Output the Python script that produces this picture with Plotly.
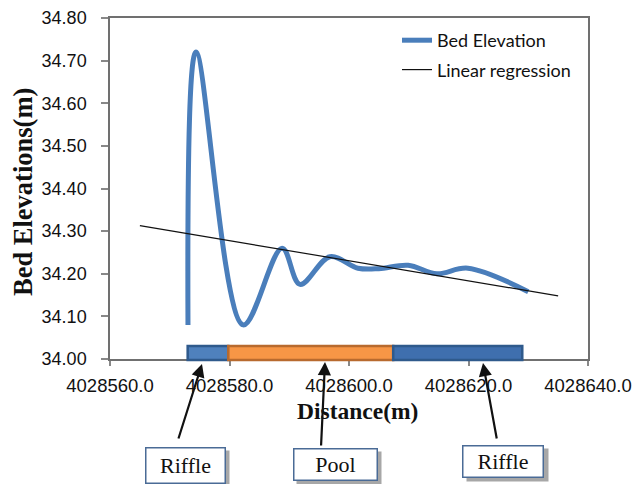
import plotly.graph_objects as go

# ---------------- data ----------------
distance = [4028573.05, 4028574.4, 4028582.3, 4028588.8, 4028591.8, 4028596.8,
            4028601.5, 4028605.0, 4028609.9, 4028614.7, 4028619.9, 4028630.0]
elevation = [34.08, 34.72, 34.08, 34.26, 34.175, 34.24,
             34.213, 34.212, 34.22, 34.20, 34.213, 34.158]

reg_distance = [4028565.0, 4028635.0]
reg_elevation = [34.313, 34.148]

segment_names = ["Riffle", "Pool", "Riffle"]
segment_start = [4028573.0, 4028579.8, 4028607.4]
segment_end = [4028579.8, 4028607.4, 4028629.0]
segment_fill = ["#4f81bd", "#f79646", "#3f6fae"]
segment_edge = ["#2f5a8c", "#b86a2e", "#2f5a8c"]

x_ticks = [4028560, 4028580, 4028600, 4028620, 4028640]
x_tick_labels = ["4028560.0", "4028580.0", "4028600.0", "4028620.0", "4028640.0"]
y_ticks = [34.0, 34.1, 34.2, 34.3, 34.4, 34.5, 34.6, 34.7, 34.8]
y_tick_labels = ["34.00", "34.10", "34.20", "34.30", "34.40", "34.50", "34.60", "34.70", "34.80"]

# ---------------- layout helpers ----------------
W, H = 633, 484
L, R, T, B = 110, 588, 18, 359


def px_x(p):
    return (p - L) / (R - L)


def px_y(p):
    return (B - p) / (B - T)


fig = go.Figure()

fig.add_trace(go.Scatter(
    x=distance, y=elevation, mode="lines", name="Bed Elevation",
    line=dict(color="#4a7ebb", width=5, shape="spline", smoothing=1.0),
    legendgroup="a",
))
fig.add_trace(go.Scatter(
    x=reg_distance, y=reg_elevation, mode="lines", name="Linear regression",
    line=dict(color="#111111", width=1.2),
    legendgroup="b",
))

shapes = []
# riffle / pool bars
for s, e, f, c in zip(segment_start, segment_end, segment_fill, segment_edge):
    shapes.append(dict(type="rect", xref="x", yref="paper", x0=s, x1=e,
                       y0=px_y(360), y1=px_y(346),
                       fillcolor=f, line=dict(color=c, width=2.5), layer="above"))

annotations = []
# axis titles
annotations.append(dict(text="<b>Bed Elevations(m)</b>", xref="paper", yref="paper",
                        x=px_x(23), y=px_y(192), textangle=-90, showarrow=False,
                        xanchor="center", yanchor="middle",
                        font=dict(family="Liberation Serif", size=26.5, color="#111111")))
annotations.append(dict(text="<b>Distance(m)</b>", xref="paper", yref="paper",
                        x=px_x(357), y=px_y(411), showarrow=False,
                        xanchor="center", yanchor="middle",
                        font=dict(family="Liberation Serif", size=23.5, color="#111111")))

# arrows (head, tail) in pixels
arrows = [((202, 364), (178, 440)), ((325, 362), (321, 447)), ((483, 363), (497, 440))]
for (hx, hy), (tx, ty) in arrows:
    annotations.append(dict(text="", xref="paper", yref="paper", x=px_x(hx), y=px_y(hy),
                            ax=tx - hx, ay=ty - hy, axref="pixel", ayref="pixel",
                            showarrow=True, arrowhead=2, arrowsize=1.2, arrowwidth=2.2,
                            arrowcolor="#111111"))

# labelled boxes (center x, center y, width, height)
boxes = [(185, 465, 80, 36), (335, 464, 84, 32), (503, 461, 81, 32)]
for name, (cx, cy, bw, bh) in zip(segment_names, boxes):
    annotations.append(dict(text="", xref="paper", yref="paper", x=px_x(cx), y=px_y(cy),
                            xshift=4, yshift=-4, showarrow=False, width=bw, height=bh,
                            borderpad=0, bgcolor="rgba(60,60,60,0.45)",
                            xanchor="center", yanchor="middle"))
    annotations.append(dict(text=name, xref="paper", yref="paper", x=px_x(cx), y=px_y(cy),
                            showarrow=False, width=bw - 2, height=bh - 2, borderpad=0,
                            bgcolor="white", bordercolor="#4a6b96", borderwidth=1.5,
                            xanchor="center", yanchor="middle",
                            font=dict(family="Liberation Serif", size=22, color="#111111")))

fig.update_layout(
    template="none",
    width=W, height=H, autosize=False,
    margin=dict(l=L, r=W - R, t=T, b=H - B, pad=0),
    paper_bgcolor="white", plot_bgcolor="white",
    shapes=shapes, annotations=annotations,
    showlegend=True,
    legend=dict(x=px_x(397), y=px_y(22), xanchor="left", yanchor="top",
                bgcolor="rgba(0,0,0,0)", tracegroupgap=3, borderwidth=0,
                font=dict(family="Lato", size=18, color="#111111")),
    xaxis=dict(range=[4028560, 4028640], tickvals=x_ticks, ticktext=x_tick_labels,
               automargin=False, mirror=True,
               showgrid=False, zeroline=False, showline=True, linecolor="#707070", linewidth=1.5,
               ticks="outside", ticklen=5, tickcolor="#888888", tickwidth=1.5,
               ticklabelstandoff=4,
               tickfont=dict(family="Liberation Sans", size=18.5, color="#111111")),
    yaxis=dict(range=[34.0, 34.8], tickvals=y_ticks, ticktext=y_tick_labels,
               automargin=False, mirror=True,
               showgrid=False, zeroline=False, showline=True, linecolor="#707070", linewidth=1.5,
               ticks="outside", ticklen=7, tickcolor="#888888", tickwidth=1.5,
               ticklabelstandoff=11,
               tickfont=dict(family="Liberation Sans", size=18, color="#111111")),
)

fig.write_html("out.html", config={"displayModeBar": False},
               post_script="document.body.style.margin='0';document.body.style.overflow='hidden';")
